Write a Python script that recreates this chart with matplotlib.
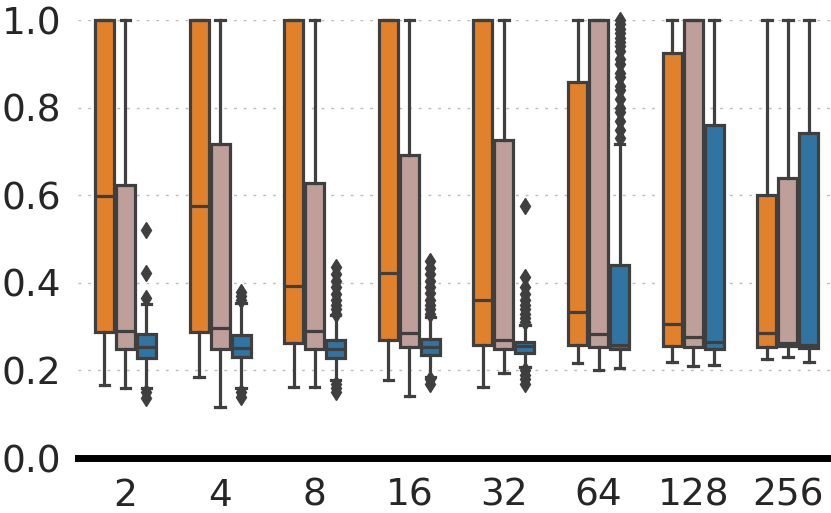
import numpy as np
import matplotlib
matplotlib.use('Agg')
import matplotlib.pyplot as plt

# categories on the x axis
sizes = ['2', '4', '8', '16', '32', '64', '128', '256']

# box stats, one list per hue, one entry per category
orange_q1  = [0.288, 0.288, 0.262, 0.269, 0.258, 0.258, 0.256, 0.254]
orange_med = [0.598, 0.576, 0.393, 0.423, 0.361, 0.333, 0.307, 0.286]
orange_q3  = [1.0, 1.0, 1.0, 1.0, 1.0, 0.859, 0.924, 0.600]
orange_lo  = [0.167, 0.186, 0.163, 0.178, 0.163, 0.216, 0.220, 0.226]
orange_hi  = [1.0, 1.0, 1.0, 1.0, 1.0, 1.0, 1.0, 1.0]

pink_q1  = [0.249, 0.250, 0.250, 0.253, 0.250, 0.254, 0.253, 0.255]
pink_med = [0.290, 0.298, 0.290, 0.285, 0.269, 0.284, 0.277, 0.262]
pink_q3  = [0.623, 0.718, 0.629, 0.692, 0.726, 1.0, 1.0, 0.640]
pink_lo  = [0.160, 0.117, 0.163, 0.142, 0.195, 0.201, 0.211, 0.230]
pink_hi  = [1.0, 1.0, 1.0, 1.0, 1.0, 1.0, 1.0, 1.0]

blue_q1  = [0.228, 0.230, 0.228, 0.235, 0.241, 0.250, 0.250, 0.252]
blue_med = [0.254, 0.252, 0.250, 0.254, 0.257, 0.259, 0.266, 0.258]
blue_q3  = [0.283, 0.281, 0.270, 0.271, 0.265, 0.441, 0.761, 0.743]
blue_lo  = [0.160, 0.160, 0.178, 0.186, 0.208, 0.205, 0.212, 0.220]
blue_hi  = [0.352, 0.353, 0.326, 0.323, 0.304, 0.717, 1.0, 1.0]
blue_fliers = [
    [0.521, 0.422, 0.365, 0.150, 0.138],
    [0.380, 0.370, 0.362, 0.150, 0.140],
    [0.436, 0.420, 0.405, 0.390, 0.375, 0.36, 0.35, 0.34, 0.33, 0.170, 0.160, 0.150],
    [0.450, 0.435, 0.420, 0.405, 0.390, 0.377, 0.36, 0.35, 0.34, 0.33, 0.180, 0.170],
    [0.576, 0.414, 0.390, 0.375, 0.36, 0.35, 0.34, 0.33, 0.32, 0.31, 0.200, 0.190, 0.180, 0.170],
    [0.73, 0.75, 0.77, 0.79, 0.80, 0.82, 0.84, 0.85, 0.87, 0.88, 0.90, 0.91, 0.93,
     0.94, 0.95, 0.96, 0.97, 0.98, 0.99, 1.0],
    [],
    [],
]

colors = ['#e1812c', '#bf9f99', '#3274a1']
edge = '#3f3f3f'

plt.rcParams['font.family'] = 'DejaVu Sans'
fig = plt.figure(figsize=(8.31, 5.13), dpi=100)
ax = fig.add_axes([0.094, 0.107, 0.911, 0.854])

hues = [
    (orange_q1, orange_med, orange_q3, orange_lo, orange_hi, [[] for _ in sizes]),
    (pink_q1, pink_med, pink_q3, pink_lo, pink_hi, [[] for _ in sizes]),
    (blue_q1, blue_med, blue_q3, blue_lo, blue_hi, blue_fliers),
]
offsets = [-0.222, 0.0, 0.222]
x = np.arange(len(sizes))

for (q1, med, q3, lo, hi, fl), off, c in zip(hues, offsets, colors):
    stats = []
    for i in range(len(sizes)):
        stats.append(dict(med=med[i], q1=q1[i], q3=q3[i],
                          whislo=lo[i], whishi=hi[i], fliers=fl[i]))
    parts = ax.bxp(stats, positions=x + off, widths=0.2, patch_artist=True,
                   manage_ticks=False,
                   boxprops=dict(facecolor=c, edgecolor=edge, linewidth=2.3),
                   medianprops=dict(color=edge, linewidth=2.3),
                   whiskerprops=dict(color=edge, linewidth=2.3),
                   capprops=dict(color=edge, linewidth=2.3),
                   flierprops=dict(marker='d', markerfacecolor=edge, markeredgecolor=edge,
                                   markersize=8))
    # let the outlines at 1.0 show in full, like the original
    for key in ['boxes', 'whiskers', 'caps', 'medians', 'fliers']:
        for art in parts[key]:
            art.set_clip_on(False)

ax.set_xlim(-0.5, 7.5)
ax.set_ylim(0, 1.0)
ax.set_xticks(x)
ax.set_xticklabels(sizes)
ax.set_yticks([0.0, 0.2, 0.4, 0.6, 0.8, 1.0])
ax.set_yticklabels(['0.0', '0.2', '0.4', '0.6', '0.8', '1.0'])
ax.tick_params(axis='both', length=0, labelsize=27, colors='#262626')
ax.tick_params(axis='x', pad=14)
ax.tick_params(axis='y', pad=12)
ax.yaxis.grid(True, color='#bbbbbb', linestyle=(0, (2, 5)), linewidth=1)
ax.set_axisbelow(True)
for s in ['left', 'right', 'top']:
    ax.spines[s].set_visible(False)
ax.spines['bottom'].set_color('#cccccc')
ax.axhline(0, color='black', linewidth=5, clip_on=False, zorder=5)

fig.savefig('out.png', dpi=100)
